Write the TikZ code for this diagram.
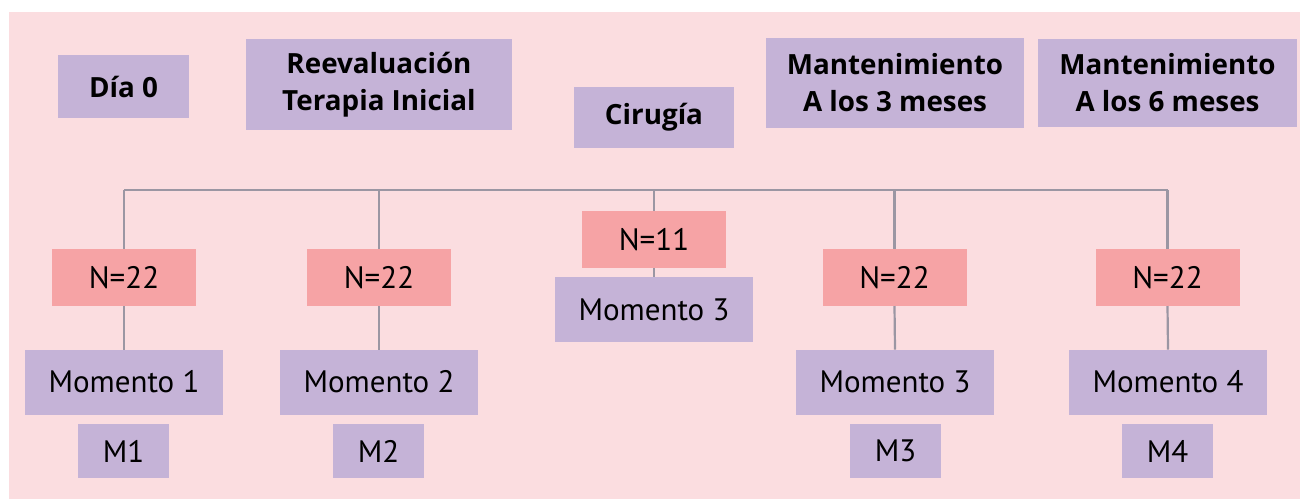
\documentclass[tikz,border=0pt]{standalone}
\usepackage{fontspec}
\setmainfont{PT Sans}
\newfontfamily\headfont{Open Sans}
\definecolor{bgpink}{HTML}{FBDDE0}
\definecolor{lav}{HTML}{C5B3D7}
\definecolor{salmon}{HTML}{F6A3A5}
\definecolor{linegray}{HTML}{9B96A3}
\tikzset{
  box/.style={rectangle, inner sep=0pt, outer sep=0pt, text=black, align=center},
  headbox/.style={box, fill=lav, font=\headfont\fontsize{27.8}{37}\selectfont\bfseries},
  nbox/.style={box, fill=salmon, minimum width=144pt, minimum height=57pt, font=\fontsize{31}{36}\selectfont},
  mombox/.style={box, fill=lav, minimum width=198pt, minimum height=65pt, font=\fontsize{31}{36}\selectfont},
  mbox/.style={box, fill=lav, minimum width=91pt, minimum height=54pt, font=\fontsize{31}{36}\selectfont},
  conn/.style={draw=linegray, line width=2.2pt}
}
\begin{document}
\begin{tikzpicture}[x=1pt,y=-1pt]
\useasboundingbox (0,0) rectangle (1300,499);
\fill[bgpink] (9,12) rectangle (1300,499);
% headings
\node[headbox, minimum width=131pt, minimum height=63pt] (dia) at (123.5,86.5) {Día 0};
\node[headbox, minimum width=266pt, minimum height=91pt] (reev) at (379,84.5) {Reevaluación\\Terapia Inicial};
\node[headbox, minimum width=160pt, minimum height=61pt] (cir) at (654,117.5) {Cirugía};
\node[headbox, minimum width=258pt, minimum height=90pt] (mant3) at (895,83) {Mantenimiento\\A los 3 meses};
\node[headbox, minimum width=259pt, minimum height=88pt] (mant6) at (1167.5,83) {Mantenimiento\\A los 6 meses};
% bar
\coordinate (barL) at (124,190);
\coordinate (barR) at (1168,190);
% N boxes
\node[nbox] (n1) at (124,277.5) {N=22};
\node[nbox] (n2) at (379,277.5) {N=22};
\node[nbox] (nc) at (654,239.5) {N=11};
\node[nbox] (n3) at (894.5,277.5) {N=22};
\node[nbox] (n4) at (1167.5,277.5) {N=22};
% Momento boxes
\node[mombox] (mo1) at (124,382) {Momento 1};
\node[mombox] (mo2) at (379,382) {Momento 2};
\node[mombox] (moc) at (654,309.5) {Momento 3};
\node[mombox] (mo3) at (895,382) {Momento 3};
\node[mombox] (mo4) at (1168,382) {Momento 4};
% M boxes
\node[mbox] (m1) at (123.5,451) {M1};
\node[mbox] (m2) at (378.5,451) {M2};
\node[mbox] (m3) at (895.5,451) {M3};
\node[mbox] (m4) at (1167.5,451) {M4};
% connectors
\draw[conn] (barL) -- (barR);
\foreach \n/\m in {n1/mo1,n2/mo2,nc/moc,n3/mo3,n4/mo4}{
  \draw[conn] (\n.north |- barL) -- (\n.north);
  \draw[conn] (\n.south) -- (\m.north);
}
\end{tikzpicture}
\end{document}
